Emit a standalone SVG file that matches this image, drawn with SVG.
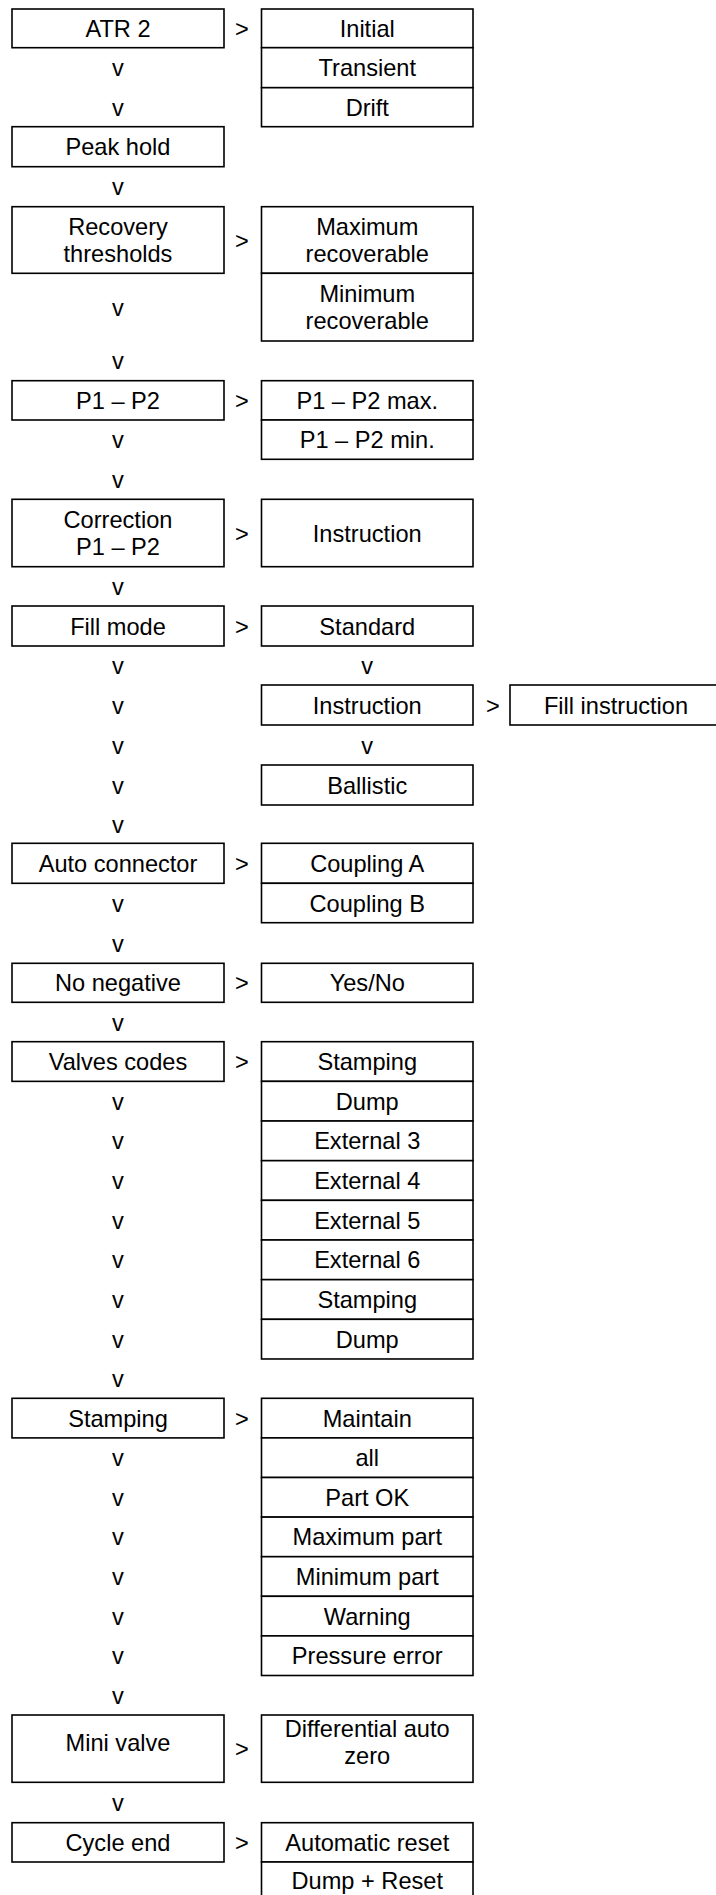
<svg xmlns="http://www.w3.org/2000/svg" width="716" height="1895" viewBox="0 0 716 1895">
<style>
.b{fill:#fff;stroke:#000;stroke-width:1.6}
text{font-family:"Liberation Sans",Arial,sans-serif;font-size:23.6px;fill:#000;text-anchor:middle}
</style>
<rect width="716" height="1895" fill="#fff"/>
<g id="atr2"><rect class="b" x="12" y="9" width="212" height="38.7"/><text x="118" y="36.8">ATR 2</text></g>
<g id="initial"><rect class="b" x="261.5" y="9" width="211.5" height="38.7"/><text x="367.25" y="36.8">Initial</text></g>
<g id="transient"><rect class="b" x="261.5" y="47.7" width="211.5" height="40"/><text x="367.25" y="76.2">Transient</text></g>
<g id="drift"><rect class="b" x="261.5" y="87.7" width="211.5" height="39"/><text x="367.25" y="115.7">Drift</text></g>
<g id="peakhold"><rect class="b" x="12" y="126.7" width="212" height="40"/><text x="118" y="155.2">Peak hold</text></g>
<g id="recovery"><rect class="b" x="12" y="206.7" width="212" height="66.6"/><text x="118" y="235">Recovery</text><text x="118" y="261.7">thresholds</text></g>
<g id="maxrec"><rect class="b" x="261.5" y="206.7" width="211.5" height="66.6"/><text x="367.25" y="235">Maximum</text><text x="367.25" y="261.7">recoverable</text></g>
<g id="minrec"><rect class="b" x="261.5" y="273.3" width="211.5" height="67.7"/><text x="367.25" y="302.3">Minimum</text><text x="367.25" y="329">recoverable</text></g>
<g id="p1p2"><rect class="b" x="12" y="380.7" width="212" height="39.3"/><text x="118" y="408.9">P1 – P2</text></g>
<g id="p1p2max"><rect class="b" x="261.5" y="380.7" width="211.5" height="39.3"/><text x="367.25" y="408.9">P1 – P2 max.</text></g>
<g id="p1p2min"><rect class="b" x="261.5" y="420" width="211.5" height="39.3"/><text x="367.25" y="448.2">P1 – P2 min.</text></g>
<g id="correction"><rect class="b" x="12" y="499.3" width="212" height="67.4"/><text x="118" y="528">Correction</text><text x="118" y="554.7">P1 – P2</text></g>
<g id="instruction1"><rect class="b" x="261.5" y="499.3" width="211.5" height="67.4"/><text x="367.25" y="541.5">Instruction</text></g>
<g id="fillmode"><rect class="b" x="12" y="606" width="212" height="40"/><text x="118" y="634.5">Fill mode</text></g>
<g id="standard"><rect class="b" x="261.5" y="606" width="211.5" height="40"/><text x="367.25" y="634.5">Standard</text></g>
<g id="instruction2"><rect class="b" x="261.5" y="685" width="211.5" height="40"/><text x="367.25" y="713.5">Instruction</text></g>
<g id="fillinstruction"><rect class="b" x="510" y="685" width="212" height="40"/><text x="616" y="713.5">Fill instruction</text></g>
<g id="ballistic"><rect class="b" x="261.5" y="765" width="211.5" height="40"/><text x="367.25" y="793.5">Ballistic</text></g>
<g id="autoconnector"><rect class="b" x="12" y="843.3" width="212" height="40"/><text x="118" y="871.8">Auto connector</text></g>
<g id="couplinga"><rect class="b" x="261.5" y="843.3" width="211.5" height="40"/><text x="367.25" y="871.8">Coupling A</text></g>
<g id="couplingb"><rect class="b" x="261.5" y="883.3" width="211.5" height="39.4"/><text x="367.25" y="911.5">Coupling B</text></g>
<g id="nonegative"><rect class="b" x="12" y="963.3" width="212" height="39"/><text x="118" y="991.3">No negative</text></g>
<g id="yesno"><rect class="b" x="261.5" y="963.3" width="211.5" height="39"/><text x="367.25" y="991.3">Yes/No</text></g>
<g id="valvescodes"><rect class="b" x="12" y="1041.7" width="212" height="39.66"/><text x="118" y="1070">Valves codes</text></g>
<g id="v-stamping1"><rect class="b" x="261.5" y="1041.7" width="211.5" height="39.66"/><text x="367.25" y="1070">Stamping</text></g>
<g id="v-dump1"><rect class="b" x="261.5" y="1081.36" width="211.5" height="39.66"/><text x="367.25" y="1109.7">Dump</text></g>
<g id="v-ext3"><rect class="b" x="261.5" y="1121.02" width="211.5" height="39.66"/><text x="367.25" y="1149.35">External 3</text></g>
<g id="v-ext4"><rect class="b" x="261.5" y="1160.68" width="211.5" height="39.66"/><text x="367.25" y="1189">External 4</text></g>
<g id="v-ext5"><rect class="b" x="261.5" y="1200.34" width="211.5" height="39.66"/><text x="367.25" y="1228.7">External 5</text></g>
<g id="v-ext6"><rect class="b" x="261.5" y="1240" width="211.5" height="39.66"/><text x="367.25" y="1268.3">External 6</text></g>
<g id="v-stamping2"><rect class="b" x="261.5" y="1279.66" width="211.5" height="39.66"/><text x="367.25" y="1308">Stamping</text></g>
<g id="v-dump2"><rect class="b" x="261.5" y="1319.32" width="211.5" height="39.66"/><text x="367.25" y="1347.6">Dump</text></g>
<g id="stamping"><rect class="b" x="12" y="1398.3" width="212" height="39.6"/><text x="118" y="1426.6">Stamping</text></g>
<g id="s-maintain"><rect class="b" x="261.5" y="1398.3" width="211.5" height="39.6"/><text x="367.25" y="1426.6">Maintain</text></g>
<g id="s-all"><rect class="b" x="261.5" y="1437.9" width="211.5" height="39.6"/><text x="367.25" y="1466.2">all</text></g>
<g id="s-partok"><rect class="b" x="261.5" y="1477.5" width="211.5" height="39.6"/><text x="367.25" y="1505.8">Part OK</text></g>
<g id="s-maxpart"><rect class="b" x="261.5" y="1517.1" width="211.5" height="39.6"/><text x="367.25" y="1545.4">Maximum part</text></g>
<g id="s-minpart"><rect class="b" x="261.5" y="1556.7" width="211.5" height="39.6"/><text x="367.25" y="1585">Minimum part</text></g>
<g id="s-warning"><rect class="b" x="261.5" y="1596.3" width="211.5" height="39.6"/><text x="367.25" y="1624.6">Warning</text></g>
<g id="s-pressure"><rect class="b" x="261.5" y="1635.9" width="211.5" height="39.6"/><text x="367.25" y="1664.2">Pressure error</text></g>
<g id="minivalve"><rect class="b" x="12" y="1715" width="212" height="67.3"/><text x="118" y="1751">Mini valve</text></g>
<g id="diffzero"><rect class="b" x="261.5" y="1715" width="211.5" height="67.3"/><text x="367.25" y="1737">Differential auto</text><text x="367.25" y="1764">zero</text></g>
<g id="cycleend"><rect class="b" x="12" y="1822.7" width="212" height="39.3"/><text x="118" y="1850.9">Cycle end</text></g>
<g id="autoreset"><rect class="b" x="261.5" y="1822.7" width="211.5" height="39.3"/><text x="367.25" y="1850.9">Automatic reset</text></g>
<g id="dumpreset"><rect class="b" x="261.5" y="1862" width="211.5" height="40"/><text x="367.25" y="1889">Dump + Reset</text></g>
<g id="connectors">
<text x="242" y="36.8">&gt;</text>
<text x="242" y="248.5">&gt;</text>
<text x="242" y="408.9">&gt;</text>
<text x="242" y="541.5">&gt;</text>
<text x="242" y="634.5">&gt;</text>
<text x="493" y="713.5">&gt;</text>
<text x="242" y="871.8">&gt;</text>
<text x="242" y="991.3">&gt;</text>
<text x="242" y="1070">&gt;</text>
<text x="242" y="1426.6">&gt;</text>
<text x="242" y="1757">&gt;</text>
<text x="242" y="1850.9">&gt;</text>
<text x="118" y="76.2">v</text>
<text x="118" y="115.7">v</text>
<text x="118" y="195.2">v</text>
<text x="118" y="315.6">v</text>
<text x="118" y="369.3">v</text>
<text x="118" y="448.2">v</text>
<text x="118" y="487.8">v</text>
<text x="118" y="594.8">v</text>
<text x="118" y="674">v</text>
<text x="118" y="713.5">v</text>
<text x="118" y="753.5">v</text>
<text x="118" y="793.5">v</text>
<text x="118" y="832.6">v</text>
<text x="118" y="911.5">v</text>
<text x="118" y="951.5">v</text>
<text x="118" y="1030.5">v</text>
<text x="118" y="1109.7">v</text>
<text x="118" y="1149.35">v</text>
<text x="118" y="1189">v</text>
<text x="118" y="1228.7">v</text>
<text x="118" y="1268.3">v</text>
<text x="118" y="1308">v</text>
<text x="118" y="1347.6">v</text>
<text x="118" y="1387.1">v</text>
<text x="118" y="1466.2">v</text>
<text x="118" y="1505.8">v</text>
<text x="118" y="1545.4">v</text>
<text x="118" y="1585">v</text>
<text x="118" y="1624.6">v</text>
<text x="118" y="1664.2">v</text>
<text x="118" y="1703.8">v</text>
<text x="118" y="1811">v</text>
<text x="367.25" y="674">v</text>
<text x="367.25" y="753.5">v</text>
</g>
</svg>
